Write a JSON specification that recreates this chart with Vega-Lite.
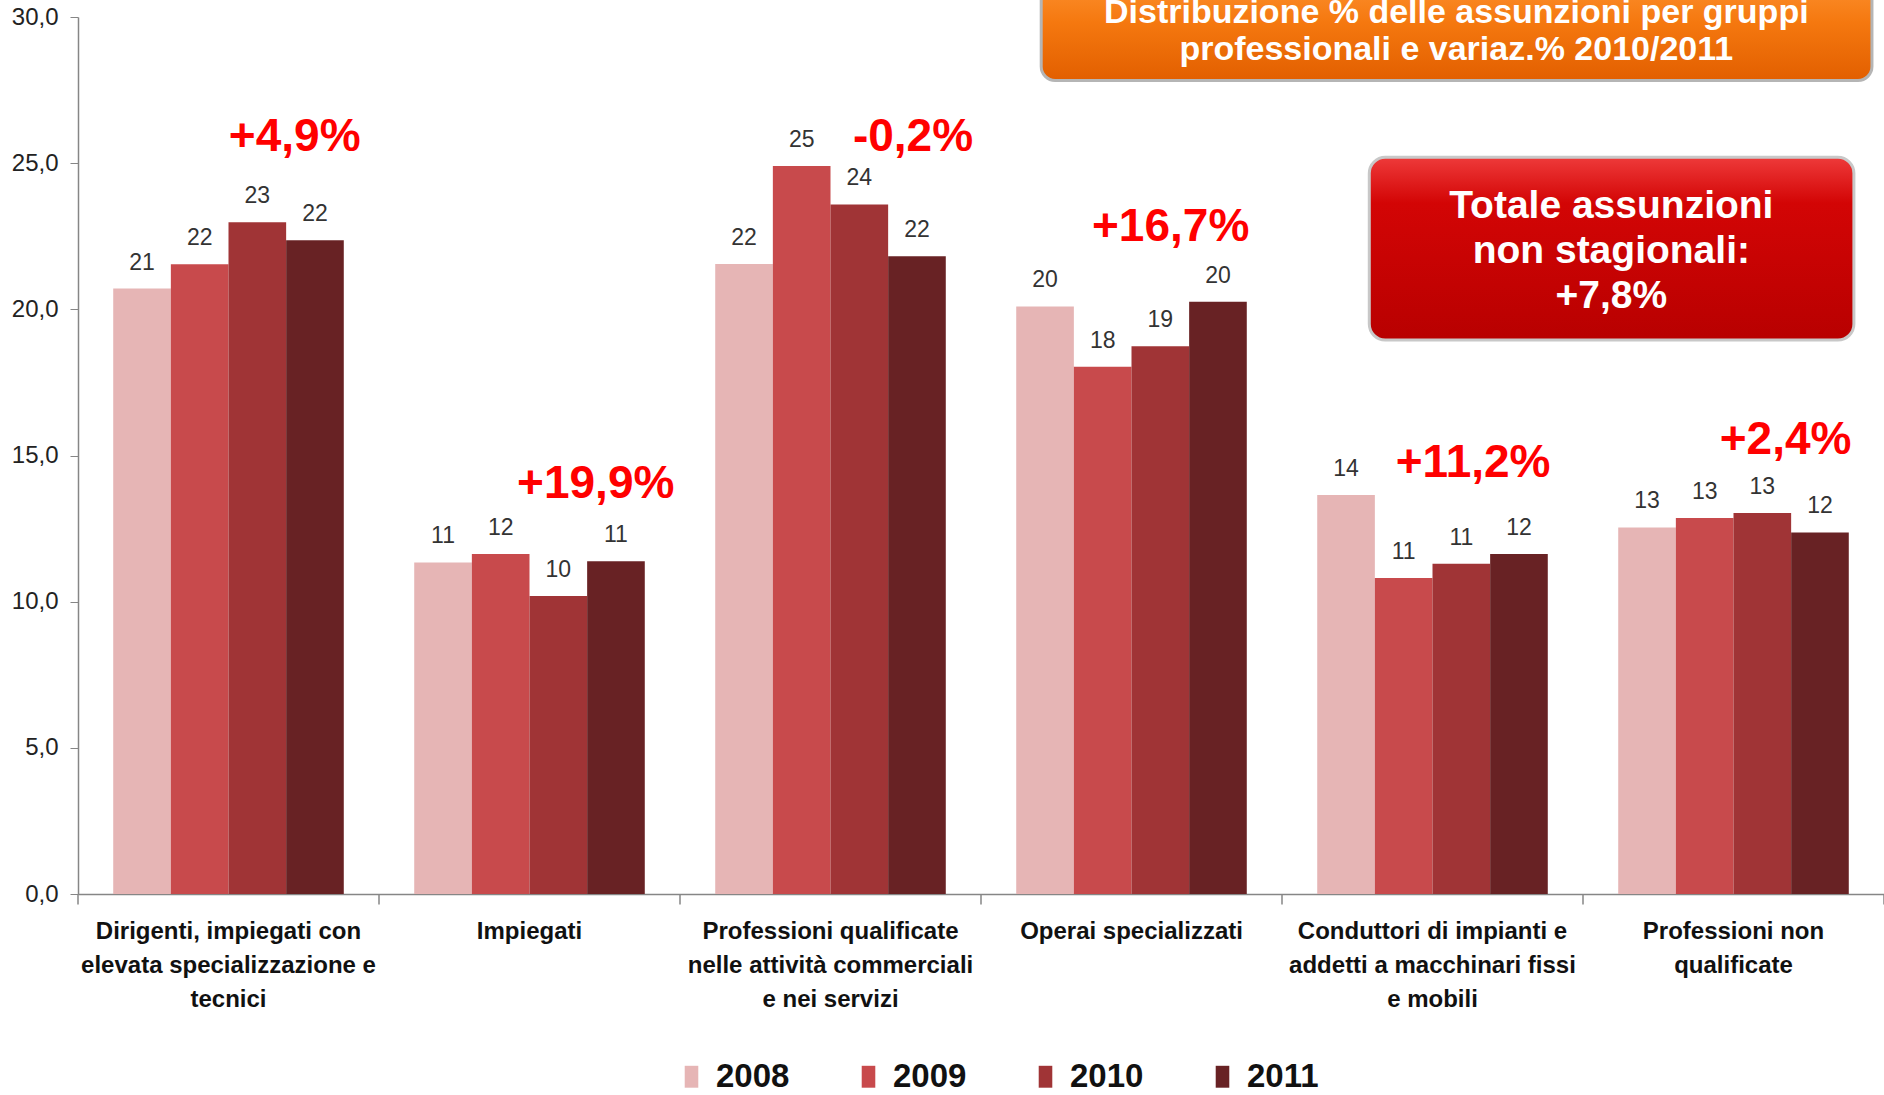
{
  "$schema": "https://vega.github.io/schema/vega-lite/v6.json",
  "width": 1806,
  "height": 877,
  "autosize": {"type": "none"},
  "padding": {"left": 78, "top": 17, "right": 0, "bottom": 201},
  "background": "white",
  "config": {"view": {"stroke": null}, "font": "Liberation Sans"},
  "datasets": {
    "bars": [
      {"categoria": "Dirigenti, impiegati con|elevata specializzazione e|tecnici", "anno": "2008", "valore": 20.71},
      {"categoria": "Dirigenti, impiegati con|elevata specializzazione e|tecnici", "anno": "2009", "valore": 21.54},
      {"categoria": "Dirigenti, impiegati con|elevata specializzazione e|tecnici", "anno": "2010", "valore": 22.98},
      {"categoria": "Dirigenti, impiegati con|elevata specializzazione e|tecnici", "anno": "2011", "valore": 22.36},
      {"categoria": "Impiegati", "anno": "2008", "valore": 11.34},
      {"categoria": "Impiegati", "anno": "2009", "valore": 11.63},
      {"categoria": "Impiegati", "anno": "2010", "valore": 10.19},
      {"categoria": "Impiegati", "anno": "2011", "valore": 11.38},
      {"categoria": "Professioni qualificate|nelle attività commerciali|e nei servizi", "anno": "2008", "valore": 21.55},
      {"categoria": "Professioni qualificate|nelle attività commerciali|e nei servizi", "anno": "2009", "valore": 24.9},
      {"categoria": "Professioni qualificate|nelle attività commerciali|e nei servizi", "anno": "2010", "valore": 23.59},
      {"categoria": "Professioni qualificate|nelle attività commerciali|e nei servizi", "anno": "2011", "valore": 21.82},
      {"categoria": "Operai specializzati", "anno": "2008", "valore": 20.1},
      {"categoria": "Operai specializzati", "anno": "2009", "valore": 18.04},
      {"categoria": "Operai specializzati", "anno": "2010", "valore": 18.74},
      {"categoria": "Operai specializzati", "anno": "2011", "valore": 20.26},
      {"categoria": "Conduttori di impianti e|addetti a macchinari fissi|e mobili", "anno": "2008", "valore": 13.65},
      {"categoria": "Conduttori di impianti e|addetti a macchinari fissi|e mobili", "anno": "2009", "valore": 10.81},
      {"categoria": "Conduttori di impianti e|addetti a macchinari fissi|e mobili", "anno": "2010", "valore": 11.3},
      {"categoria": "Conduttori di impianti e|addetti a macchinari fissi|e mobili", "anno": "2011", "valore": 11.63},
      {"categoria": "Professioni non|qualificate", "anno": "2008", "valore": 12.54},
      {"categoria": "Professioni non|qualificate", "anno": "2009", "valore": 12.86},
      {"categoria": "Professioni non|qualificate", "anno": "2010", "valore": 13.03},
      {"categoria": "Professioni non|qualificate", "anno": "2011", "valore": 12.37}
    ],
    "notes": [
      {"pos": 0.72, "livello": 25.9, "testo": "+4,9%"},
      {"pos": 1.72, "livello": 14.02, "testo": "+19,9%"},
      {"pos": 2.774, "livello": 25.9, "testo": "-0,2%"},
      {"pos": 3.63, "livello": 22.81, "testo": "+16,7%"},
      {"pos": 4.635, "livello": 14.76, "testo": "+11,2%"},
      {"pos": 5.673, "livello": 15.54, "testo": "+2,4%"}
    ],
    "ticks": [
      {"pos": 0}, {"pos": 1}, {"pos": 2}, {"pos": 3}, {"pos": 4}, {"pos": 5}, {"pos": 6}
    ],
    "boxTitolo": [
      {"x1": 3.2, "x2": 5.96, "y1": 27.83, "y2": 31.8, "cx": 4.579, "cy": 30.15, "testo": "Distribuzione % delle assunzioni per gruppi|professionali e variaz.% 2010/2011"}
    ],
    "boxTotale": [
      {"x1": 4.29, "x2": 5.9, "y1": 18.95, "y2": 25.2, "cx": 5.094, "cy": 23.55, "testo": "Totale assunzioni|non stagionali:|+7,8%"}
    ]
  },
  "layer": [
    {
      "data": {"name": "bars"},
      "encoding": {
        "x": {
          "field": "categoria", "type": "nominal", "sort": null,
          "scale": {"paddingInner": 0.234, "paddingOuter": 0.117},
          "axis": {
            "title": null, "labelAngle": 0, "ticks": false,
            "domainColor": "#868686", "domainWidth": 1.5,
            "labelExpr": "split(datum.label, '|')", "labelFontSize": 24, "labelFontWeight": "bold",
            "labelColor": "#111111", "labelLineHeight": 34, "labelPadding": 25, "labelBaseline": "top",
            "labelLimit": 400
          }
        },
        "xOffset": {"field": "anno", "type": "nominal", "scale": {"paddingInner": 0, "paddingOuter": 0}},
        "y": {
          "field": "valore", "type": "quantitative",
          "scale": {"domain": [0, 30], "nice": false},
          "axis": {
            "title": null, "values": [0, 5, 10, 15, 20, 25, 30], "grid": false,
            "labelExpr": "replace(format(datum.value, '.1f'), '.', ',')",
            "labelFontSize": 24, "labelColor": "#222222", "labelPadding": 12,
            "domainColor": "#868686", "domainWidth": 1.5, "tickColor": "#868686", "tickSize": 8
          }
        }
      },
      "layer": [
        {
          "mark": {"type": "bar"},
          "encoding": {
            "color": {
              "field": "anno", "type": "nominal",
              "scale": {"domain": ["2008", "2009", "2010", "2011"], "range": ["#e6b5b5", "#c84a4c", "#a03436", "#682224"]},
              "legend": {
                "title": null, "orient": "none", "direction": "horizontal",
                "legendX": 597, "legendY": 1043,
                "symbolType": "M-0.62,-1H0.62V1H-0.62Z", "symbolSize": 480, "symbolStrokeWidth": 0,
                "labelFontSize": 33, "labelFontWeight": "bold", "labelColor": "#111111",
                "labelOffset": 8, "columnPadding": 62
              }
            }
          }
        },
        {
          "mark": {"type": "text", "baseline": "bottom", "dy": -14, "fontSize": 23, "color": "#333333"},
          "encoding": {"text": {"field": "valore", "type": "quantitative", "format": ".0f"}}
        }
      ]
    },
    {
      "layer": [
        {
          "data": {"name": "ticks"},
          "mark": {"type": "rule", "color": "#868686", "strokeWidth": 1.5},
          "encoding": {
            "x": {"field": "pos", "type": "quantitative", "scale": {"domain": [0, 6], "nice": false, "zero": false}, "axis": null},
            "y": {"datum": 0, "type": "quantitative", "title": null},
            "y2": {"datum": -0.36}
          }
        },
        {
          "data": {"name": "boxTitolo"},
          "mark": {
            "type": "rect", "cornerRadius": 14, "stroke": "#b5b5b5", "strokeWidth": 3,
            "color": {"gradient": "linear", "x1": 0, "y1": 0, "x2": 0, "y2": 1,
              "stops": [{"offset": 0, "color": "#ff9a3a"}, {"offset": 0.5, "color": "#f5780f"}, {"offset": 1, "color": "#e25f00"}]}
          },
          "encoding": {
            "x": {"field": "x1", "type": "quantitative", "axis": null},
            "x2": {"field": "x2"},
            "y": {"field": "y1", "type": "quantitative", "title": null},
            "y2": {"field": "y2"}
          }
        },
        {
          "data": {"name": "boxTitolo"},
          "mark": {"type": "text", "lineBreak": "|", "fontSize": 34, "fontWeight": "bold", "color": "white", "lineHeight": 37, "baseline": "middle", "align": "center"},
          "encoding": {
            "x": {"field": "cx", "type": "quantitative", "axis": null},
            "y": {"field": "cy", "type": "quantitative", "title": null},
            "text": {"field": "testo", "type": "nominal"}
          }
        },
        {
          "data": {"name": "boxTotale"},
          "mark": {
            "type": "rect", "cornerRadius": 16, "stroke": "#c8c8c8", "strokeWidth": 3,
            "color": {"gradient": "linear", "x1": 0, "y1": 0, "x2": 0, "y2": 1,
              "stops": [{"offset": 0, "color": "#ee3a3a"}, {"offset": 0.25, "color": "#d30505"}, {"offset": 1, "color": "#b80000"}]}
          },
          "encoding": {
            "x": {"field": "x1", "type": "quantitative", "axis": null},
            "x2": {"field": "x2"},
            "y": {"field": "y1", "type": "quantitative", "title": null},
            "y2": {"field": "y2"}
          }
        },
        {
          "data": {"name": "boxTotale"},
          "mark": {"type": "text", "lineBreak": "|", "fontSize": 39, "fontWeight": "bold", "color": "white", "lineHeight": 45, "baseline": "middle", "align": "center"},
          "encoding": {
            "x": {"field": "cx", "type": "quantitative", "axis": null},
            "y": {"field": "cy", "type": "quantitative", "title": null},
            "text": {"field": "testo", "type": "nominal"}
          }
        },
        {
          "data": {"name": "notes"},
          "mark": {"type": "text", "fontSize": 46, "fontWeight": "bold", "color": "#ff0000", "baseline": "middle", "align": "center"},
          "encoding": {
            "x": {"field": "pos", "type": "quantitative", "axis": null},
            "y": {"field": "livello", "type": "quantitative", "title": null},
            "text": {"field": "testo", "type": "nominal"}
          }
        }
      ]
    }
  ],
  "resolve": {"scale": {"x": "independent"}, "axis": {"x": "independent"}}
}
